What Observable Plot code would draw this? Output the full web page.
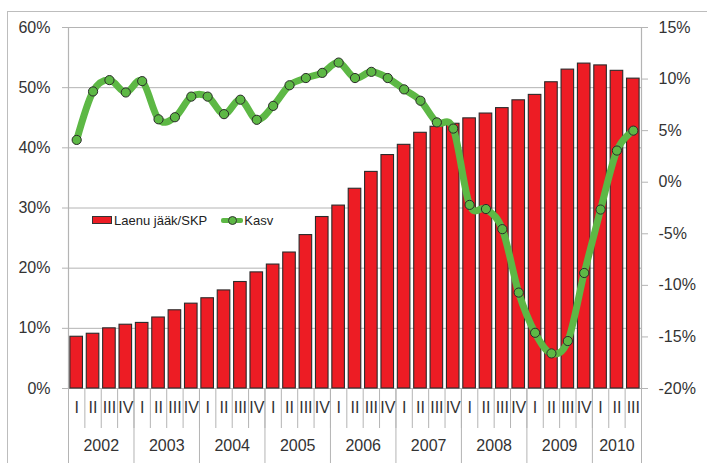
<!DOCTYPE html>
<html>
<head>
<meta charset="utf-8">
<script src="https://cdn.jsdelivr.net/npm/d3@7"></script>
<script src="https://cdn.jsdelivr.net/npm/@observablehq/plot@0.6"></script>
<style>
  html, body { margin: 0; padding: 0; background: #fff; }
  #wrap { position: relative; width: 707px; height: 463px; overflow: hidden; font-family: "Liberation Sans", Arial, sans-serif; }
  #frame { position: absolute; left: 7px; top: 11px; width: 720px; height: 470px; border-left: 1.5px solid #bdbdbd; border-top: 1.5px solid #bdbdbd; box-sizing: border-box; pointer-events: none; }
  #chart { position: absolute; left: 0; top: 0; }
  #legend { position: absolute; left: 89px; top: 209px; width: 199px; height: 22px; background: #fff; display: flex; align-items: center; font-size: 13px; color: #222; }
  .sw-bar { display: inline-block; width: 18px; height: 6px; background: #ED1C24; border: 1px solid #333; margin-left: 3px; }
  .sw-line { position: relative; display: inline-block; width: 22px; height: 12px; margin-left: 14px; }
  .sw-line::before { content: ""; position: absolute; left: 0; right: 0; top: 3.5px; height: 5px; background: #5DB845; border-radius: 2px; }
  .sw-line::after { content: ""; position: absolute; left: 7px; top: 2px; width: 7px; height: 7px; border-radius: 50%; background: #5DB845; border: 1px solid #333; }
</style>
</head>
<body>
<div id="wrap">
  <div id="chart"></div>
  <div id="frame"></div>
  <div id="legend"><span class="sw-bar"></span><span style="margin-left:2px">Laenu jääk/SKP</span><span class="sw-line"></span><span style="margin-left:1px">Kasv</span></div>
</div>
<script>
const years = [2002, 2003, 2004, 2005, 2006, 2007, 2008, 2009, 2010];
const quarterNames = ["I", "II", "III", "IV"];
const quartersPerYear = [4, 4, 4, 4, 4, 4, 4, 4, 3];

// Laenu jääk / SKP (%), left axis
const loanToGdp = [
  8.6, 9.1, 10.0, 10.6,
  10.9, 11.8, 13.0, 14.1,
  15.0, 16.3, 17.7, 19.3,
  20.6, 22.6, 25.5, 28.5,
  30.4, 33.2, 36.0, 38.8,
  40.5, 42.5, 43.5, 44.0,
  44.9, 45.7, 46.6, 47.9,
  48.8, 50.9, 53.0, 54.0,
  53.7, 52.8, 51.5
];

// Kasv (%), right axis
const growth = [
  4.1, 8.8, 9.9, 8.7,
  9.8, 6.1, 6.3, 8.3,
  8.3, 6.6, 8.0, 6.05,
  7.4, 9.4, 10.1, 10.6,
  11.6, 10.1, 10.7, 10.1,
  9.0, 7.9, 5.8, 5.2,
  -2.2, -2.6, -4.55, -10.7,
  -14.6, -16.6, -15.4, -8.8,
  -2.65, 3.07, 5.0
];

const leftTicks = [0, 10, 20, 30, 40, 50, 60];
const rightTicks = [-20, -15, -10, -5, 0, 5, 10, 15];

// Build table
const rows = [];
years.forEach((yr, yi) => {
  for (let q = 0; q < quartersPerYear[yi]; q++) {
    const i = rows.length;
    rows.push({ i, year: yr, q: quarterNames[q], loan: loanToGdp[i], growth: growth[i] });
  }
});
const n = rows.length;

// map right-axis values into the left scale
const R0 = -20, R1 = 15, L0 = 0, L1 = 60;
const toLeft = g => L0 + (g - R0) * (L1 - L0) / (R1 - R0);
const fromLeft = v => R0 + (v - L0) * (R1 - R0) / (L1 - L0);

// year block boundaries and centers
const yearStarts = [];
const yearCenters = [];
let acc = 0;
years.forEach((yr, yi) => {
  yearStarts.push(acc);
  yearCenters.push({ year: String(yr), x: acc + quartersPerYear[yi] / 2 });
  acc += quartersPerYear[yi];
});
yearStarts.push(acc);

const gridColor = "#b4b4b4";
const textColor = "#333";

const chart = Plot.plot({
  width: 707,
  height: 463,
  marginLeft: 68,
  marginRight: 66,
  marginTop: 27,
  marginBottom: 75,
  style: { fontFamily: "'Liberation Sans', Arial, sans-serif", fontSize: "16px", color: textColor, background: "transparent" },
  x: { type: "linear", domain: [0, n], axis: null, label: null },
  y: { domain: [L0, L1], axis: null, label: null },
  marks: [
    // gridlines
    Plot.ruleY(leftTicks, { stroke: gridColor, strokeWidth: 1 }),
    // vertical axis lines
    Plot.ruleX([0, n], { stroke: gridColor, strokeWidth: 1.2 }),
    // bars
    Plot.rectY(rows, {
      x1: d => d.i, x2: d => d.i + 1, y1: 0, y2: "loan",
      insetLeft: 1.9, insetRight: 1.9,
      fill: "#ED1C24", stroke: "#2b2b2b", strokeWidth: 1.1
    }),
    // growth line
    Plot.line(rows, {
      x: d => d.i + 0.5, y: d => toLeft(d.growth),
      curve: "cardinal", tension: 0,
      stroke: "#5DB845", strokeWidth: 7, strokeLinecap: "round", strokeLinejoin: "round"
    }),
    Plot.dot(rows, {
      x: d => d.i + 0.5, y: d => toLeft(d.growth),
      r: 4.6, fill: "#5DB845", stroke: "#2b2b2b", strokeWidth: 1
    }),
    // left axis
    Plot.axisY({
      anchor: "left", ticks: leftTicks, tickFormat: d => d + "%", label: null,
      tickSize: 6, tickPadding: 12, stroke: gridColor, fill: textColor, fontSize: 16
    }),
    // right axis
    Plot.axisY({
      anchor: "right", ticks: rightTicks.map(toLeft), label: null,
      tickFormat: v => Math.round(fromLeft(v)) + "%",
      tickSize: 6, tickPadding: 11, stroke: gridColor, fill: textColor, fontSize: 16
    }),
    // quarter separators
    Plot.axisX({
      anchor: "bottom", ticks: d3.range(n + 1), tickFormat: () => "", label: null,
      tickSize: 40, stroke: gridColor
    }),
    // year separators
    Plot.axisX({
      anchor: "bottom", ticks: yearStarts, tickFormat: () => "", label: null,
      tickSize: 80, stroke: gridColor
    }),
    // quarter labels
    Plot.text(rows, {
      x: d => d.i + 0.5, text: "q", frameAnchor: "bottom", dy: 24,
      fill: textColor, fontSize: 16
    }),
    // year labels
    Plot.text(yearCenters, {
      x: "x", text: "year", frameAnchor: "bottom", dy: 62,
      fill: textColor, fontSize: 16
    })
  ]
});
document.getElementById("chart").appendChild(chart);
</script>
</body>
</html>
